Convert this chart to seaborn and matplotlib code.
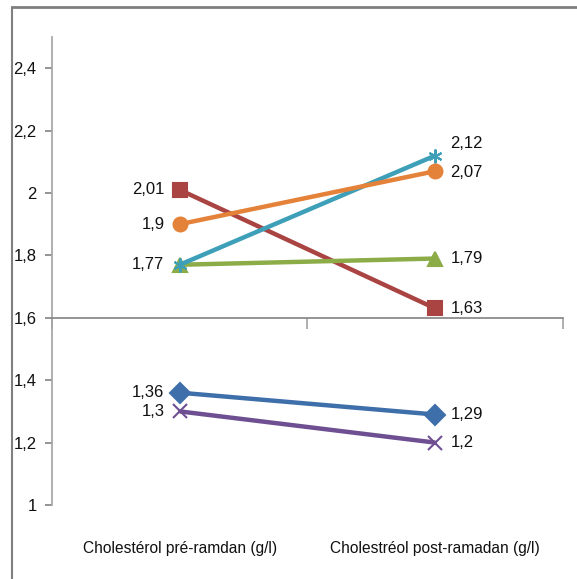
import numpy as np
import pandas as pd
import seaborn as sns
import matplotlib.pyplot as plt
from matplotlib.lines import Line2D
from matplotlib import transforms

# data
categories = ["Cholestérol pré-ramdan (g/l)", "Cholestréol post-ramadan (g/l)"]
series_names = ["S1", "S2", "S3", "S4", "S5", "S6"]
pre_values = [1.36, 2.01, 1.77, 1.30, 1.77, 1.90]
post_values = [1.29, 1.63, 1.79, 1.20, 2.12, 2.07]
pre_labels = ["1,36", "2,01", "1,77", "1,3", "", "1,9"]
post_labels = ["1,29", "1,63", "1,79", "1,2", "2,12", "2,07"]

colors = ["#3F6FAA", "#AA4442", "#8CAC48", "#6E4F92", "#3D9FB8", "#E5823A"]
markers = ["D", "s", "^", "x", (6, 2, 0), "o"]
# vertical nudge of the post labels (points) so they do not collide
post_dy = [0, 0, 0, 0, 9, -1]

sns.set_theme(style="white")
plt.rcParams["font.family"] = ["Liberation Sans", "DejaVu Sans"]

rows = []
for name, a, b in zip(series_names, pre_values, post_values):
    rows.append({"serie": name, "x": 0, "val": a})
    rows.append({"serie": name, "x": 1, "val": b})
df = pd.DataFrame(rows)

fig = plt.figure(figsize=(5.77, 5.79), dpi=100)
ax = fig.add_axes([0.0901, 0.1278, 0.8856, 0.8083])

sns.lineplot(data=df, x="x", y="val", hue="serie",
             palette=dict(zip(series_names, colors)),
             linewidth=3.2, legend=False, ax=ax)
for ln, c, m in zip(ax.lines, colors, markers):
    ln.set_marker(m)
    ln.set_markersize(10)
    ln.set_markerfacecolor(c)
    ln.set_markeredgecolor(c)
    ln.set_markeredgewidth(1.5)
    ln.set_solid_capstyle("butt")

ax.set_xlim(-0.5, 1.5)
ax.set_ylim(1.0, 2.5)
yt = np.arange(1.0, 2.41, 0.2)
ax.set_yticks(yt)
ax.set_yticklabels([("%g" % round(v, 1)).replace(".", ",") for v in yt], fontsize=12)
ax.set_xticks([-0.5, 0.5, 1.5])
ax.set_xticklabels([])
ax.set_xlabel("")
ax.set_ylabel("")

for s in ["top", "right"]:
    ax.spines[s].set_visible(False)
ax.spines["left"].set_color("#A6A6A6")
ax.spines["bottom"].set_color("#868686")
ax.spines["bottom"].set_position(("data", 1.6))
ax.tick_params(axis="y", direction="out", length=5, color="#868686",
               labelcolor="#111111", left=True, pad=6)
ax.tick_params(axis="x", direction="out", length=8, color="#A6A6A6", bottom=True)

trans = transforms.blended_transform_factory(ax.transData, ax.transAxes)
for i, cat in enumerate(categories):
    ax.text(i, -0.092, cat, transform=trans, ha="center", va="center",
            fontsize=11.2, color="#111111")

for a, b, la, lb, dy in zip(pre_values, post_values, pre_labels, post_labels, post_dy):
    if la:
        ax.annotate(la, (0, a), xytext=(-11, 0), textcoords="offset points",
                    ha="right", va="center", fontsize=12, color="#111111")
    ax.annotate(lb, (1, b), xytext=(11, dy), textcoords="offset points",
                ha="left", va="center", fontsize=12, color="#111111")

# chart area frame
fig.add_artist(Line2D([12 / 577, 1], [1 - 7 / 579, 1 - 7 / 579],
                      transform=fig.transFigure, color="#808080", lw=2))
fig.add_artist(Line2D([12 / 577, 12 / 577], [0, 1 - 7 / 579],
                      transform=fig.transFigure, color="#808080", lw=1.5))

fig.savefig("out.png", dpi=100)
